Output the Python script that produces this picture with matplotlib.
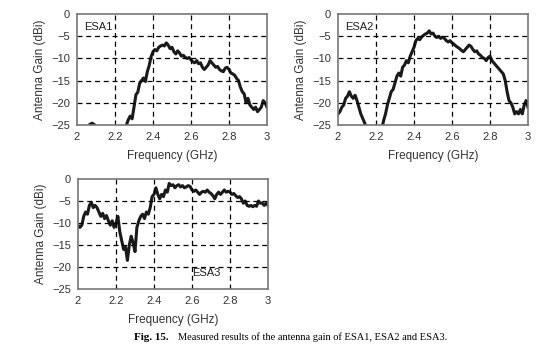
import numpy as np
import matplotlib.pyplot as plt

plt.rcParams['font.family'] = ['Liberation Sans', 'DejaVu Sans']

# measured gain, frequency in GHz, gain in dBi (nan breaks the trace)
freq1 = [2.07, 2.08, 2.09, np.nan,
         2.25, 2.26, 2.27, 2.28, 2.29, 2.30, 2.31, 2.32, 2.33, 2.34, 2.35, 2.36, 2.37, 2.38, 2.39,
         2.40, 2.41, 2.42, 2.43, 2.44, 2.45, 2.46, 2.47, 2.48, 2.49, 2.50, 2.51, 2.52, 2.53, 2.54,
         2.55, 2.56, 2.57, 2.58, 2.59, 2.60, 2.61, 2.62, 2.63, 2.64, 2.65, 2.66, 2.67, 2.68, 2.69,
         2.70, 2.71, 2.72, 2.73, 2.74, 2.75, 2.76, 2.77, 2.78, 2.79, 2.80, 2.81, 2.82, 2.83, 2.84,
         2.85, 2.86, 2.87, 2.88, 2.89, 2.90, 2.91, 2.92, 2.93, 2.94, 2.95, 2.96, 2.97, 2.98, 2.99, 3.00]
gain1 = [-24.8, -24.6, -24.9, np.nan,
         -26.5, -25.0, -23.8, -23.0, -23.6, -21.0, -18.2, -17.6, -15.6, -15.0, -14.4, -15.2, -13.0, -11.6, -9.6,
         -8.5, -8.0, -8.3, -7.5, -7.2, -7.0, -7.2, -6.5, -7.0, -7.8, -7.5, -8.5, -9.0, -8.3, -8.8,
         -9.5, -9.3, -9.8, -10.0, -9.8, -10.3, -10.8, -11.0, -10.5, -11.2, -11.0, -12.0, -12.5, -12.0, -11.5,
         -10.5, -11.0, -11.5, -12.0, -11.8, -12.5, -12.8, -13.0, -12.2, -12.0, -12.5, -13.3, -13.5, -13.8, -14.5,
         -15.0, -16.5, -17.5, -18.0, -20.0, -19.0, -20.5, -21.0, -21.5, -21.0, -22.0, -21.5, -21.0, -19.5, -20.0, -21.0]

freq2 = [2.00, 2.01, 2.02, 2.03, 2.04, 2.05, 2.06, 2.07, 2.08, 2.09, 2.10, 2.11, 2.12, 2.13, 2.14, 2.15, np.nan,
         2.23, 2.24, 2.25, 2.26, 2.27, 2.28, 2.29, 2.30, 2.31, 2.32, 2.33, 2.34, 2.35, 2.36, 2.37, 2.38, 2.39,
         2.40, 2.41, 2.42, 2.43, 2.44, 2.45, 2.46, 2.47, 2.48, 2.49, 2.50, 2.51, 2.52, 2.53, 2.54,
         2.55, 2.56, 2.57, 2.58, 2.59, 2.60, 2.61, 2.62, 2.63, 2.64, 2.65, 2.66, 2.67, 2.68, 2.69,
         2.70, 2.71, 2.72, 2.73, 2.74, 2.75, 2.76, 2.77, 2.78, 2.79, 2.80, 2.81, 2.82, 2.83, 2.84,
         2.85, 2.86, 2.87, 2.88, 2.89, 2.90, 2.91, 2.92, 2.93, 2.94, 2.95, 2.96, 2.97, 2.98, 2.99, 3.00]
gain2 = [-22.5, -22.0, -21.0, -20.5, -19.0, -18.5, -17.5, -18.5, -19.0, -18.3, -19.5, -21.0, -22.5, -23.5, -24.5, -26.0, np.nan,
         -26.0, -24.0, -22.5, -20.5, -19.0, -17.5, -17.0, -15.5, -14.0, -13.3, -14.0, -12.0, -11.5, -10.5, -11.0, -9.5, -8.5,
         -7.5, -6.0, -5.5, -5.8, -5.2, -4.8, -4.5, -4.3, -3.8, -4.5, -4.3, -5.0, -5.3, -5.0, -5.5,
         -5.2, -5.5, -6.0, -6.3, -6.0, -6.5, -6.8, -7.2, -7.5, -7.8, -8.2, -8.5, -8.0, -7.5, -7.0,
         -7.3, -8.0, -8.5, -8.3, -9.0, -9.3, -9.8, -10.0, -10.5, -9.8, -9.5, -10.5, -11.0, -11.5, -12.0,
         -12.5, -13.0, -13.5, -15.0, -17.5, -19.5, -20.0, -21.0, -22.5, -22.0, -22.5, -21.5, -22.5, -20.5, -19.5, -21.0]

freq3 = [2.00, 2.01, 2.02, 2.03, 2.04, 2.05, 2.06, 2.07, 2.08, 2.09, 2.10, 2.11, 2.12, 2.13, 2.14,
         2.15, 2.16, 2.17, 2.18, 2.19, 2.20, 2.21, 2.22, 2.23, 2.24, 2.25, 2.26, 2.27, 2.28, 2.29,
         2.30, 2.31, 2.32, 2.33, 2.34, 2.35, 2.36, 2.37, 2.38, 2.39,
         2.40, 2.41, 2.42, 2.43, 2.44, 2.45, 2.46, 2.47, 2.48, 2.49, 2.50, 2.51, 2.52, 2.53, 2.54,
         2.55, 2.56, 2.57, 2.58, 2.59, 2.60, 2.61, 2.62, 2.63, 2.64, 2.65, 2.66, 2.67, 2.68, 2.69,
         2.70, 2.71, 2.72, 2.73, 2.74, 2.75, 2.76, 2.77, 2.78, 2.79, 2.80, 2.81, 2.82, 2.83, 2.84,
         2.85, 2.86, 2.87, 2.88, 2.89, 2.90, 2.91, 2.92, 2.93, 2.94, 2.95, 2.96, 2.97, 2.98, 2.99, 3.00]
gain3 = [-10.5, -11.0, -10.5, -8.5, -7.5, -8.0, -6.0, -5.3, -6.5, -6.0, -6.5, -7.5, -8.5, -7.8, -9.0,
         -8.3, -9.5, -10.5, -9.5, -11.0, -10.0, -8.5, -12.0, -14.0, -16.0, -15.5, -18.5, -15.0, -13.0, -14.5,
         -16.5, -11.0, -9.5, -8.5, -8.0, -9.0, -7.5, -8.0, -6.5, -4.0,
         -3.5, -2.0, -3.5, -4.5, -3.5, -4.0, -2.5, -3.0, -1.0, -1.5, -1.3, -2.0, -1.5, -1.3, -1.8,
         -1.5, -2.0, -1.8, -1.5, -1.7, -2.5, -2.8, -2.5, -3.0, -3.5, -3.0, -2.8, -3.0, -2.5, -3.0,
         -3.3, -3.8, -4.5, -3.5, -3.0, -3.5, -3.0, -2.5, -3.0, -2.8, -3.0, -3.5, -3.3, -3.8, -4.2,
         -4.0, -4.5, -5.5, -5.0, -6.0, -6.2, -6.0, -6.3, -6.0, -6.2, -5.0, -5.5, -5.5, -6.0, -5.5, -6.0]

panels = [
    (freq1, gain1, 'ESA1', [77, 14, 190, 111], (0.04, 0.86)),
    (freq2, gain2, 'ESA2', [338, 14, 190, 111], (0.04, 0.86)),
    (freq3, gain3, 'ESA3', [78, 179, 190, 110], (0.60, 0.12)),
]

W, H = 544, 347
fig = plt.figure(figsize=(W / 100, H / 100), dpi=100)

for f, g, name, (x, y, w, h), (tx, ty) in panels:
    ax = fig.add_axes([x / W, 1 - (y + h) / H, w / W, h / H])
    ax.plot(f, g, color='#1a1a1a', lw=2.2, solid_joinstyle='round')
    ax.set_xlim(2, 3)
    ax.set_ylim(-25, 0)
    ax.set_xticks([2, 2.2, 2.4, 2.6, 2.8, 3])
    ax.set_xticklabels(['2', '2.2', '2.4', '2.6', '2.8', '3'])
    ax.set_yticks([0, -5, -10, -15, -20, -25])
    ax.set_yticklabels(['0', '\u22125', '\u221210', '\u221215', '\u221220', '\u221225'])
    ax.tick_params(length=0, labelsize=8, colors='#333333', pad=5)
    for xv in [2.2, 2.4, 2.6, 2.8]:
        ax.axvline(xv, color='black', lw=0.9, ls=(0, (4, 3)))
    for yv in [-5, -10, -15, -20]:
        ax.axhline(yv, color='black', lw=0.9, ls=(0, (4, 3)))
    for s in ax.spines.values():
        s.set_color('#777777')
        s.set_linewidth(1.2)
    ax.set_xlabel('Frequency (GHz)', fontsize=8.5, color='#333333', labelpad=6)
    ax.set_ylabel('Antenna Gain (dBi)', fontsize=8.5, color='#333333', labelpad=4)
    ax.text(tx, ty, name, transform=ax.transAxes, fontsize=8, color='#222222')

# figure caption
fig.text(134 / W, 1 - 337 / H, 'Fig. 15.', fontsize=8, family='Liberation Serif',
         fontweight='bold', va='center')
fig.text(178 / W, 1 - 337 / H, 'Measured results of the antenna gain of ESA1, ESA2 and ESA3.',
         fontsize=7.5, family='Liberation Serif', va='center')

fig.savefig('out.png', dpi=100)
